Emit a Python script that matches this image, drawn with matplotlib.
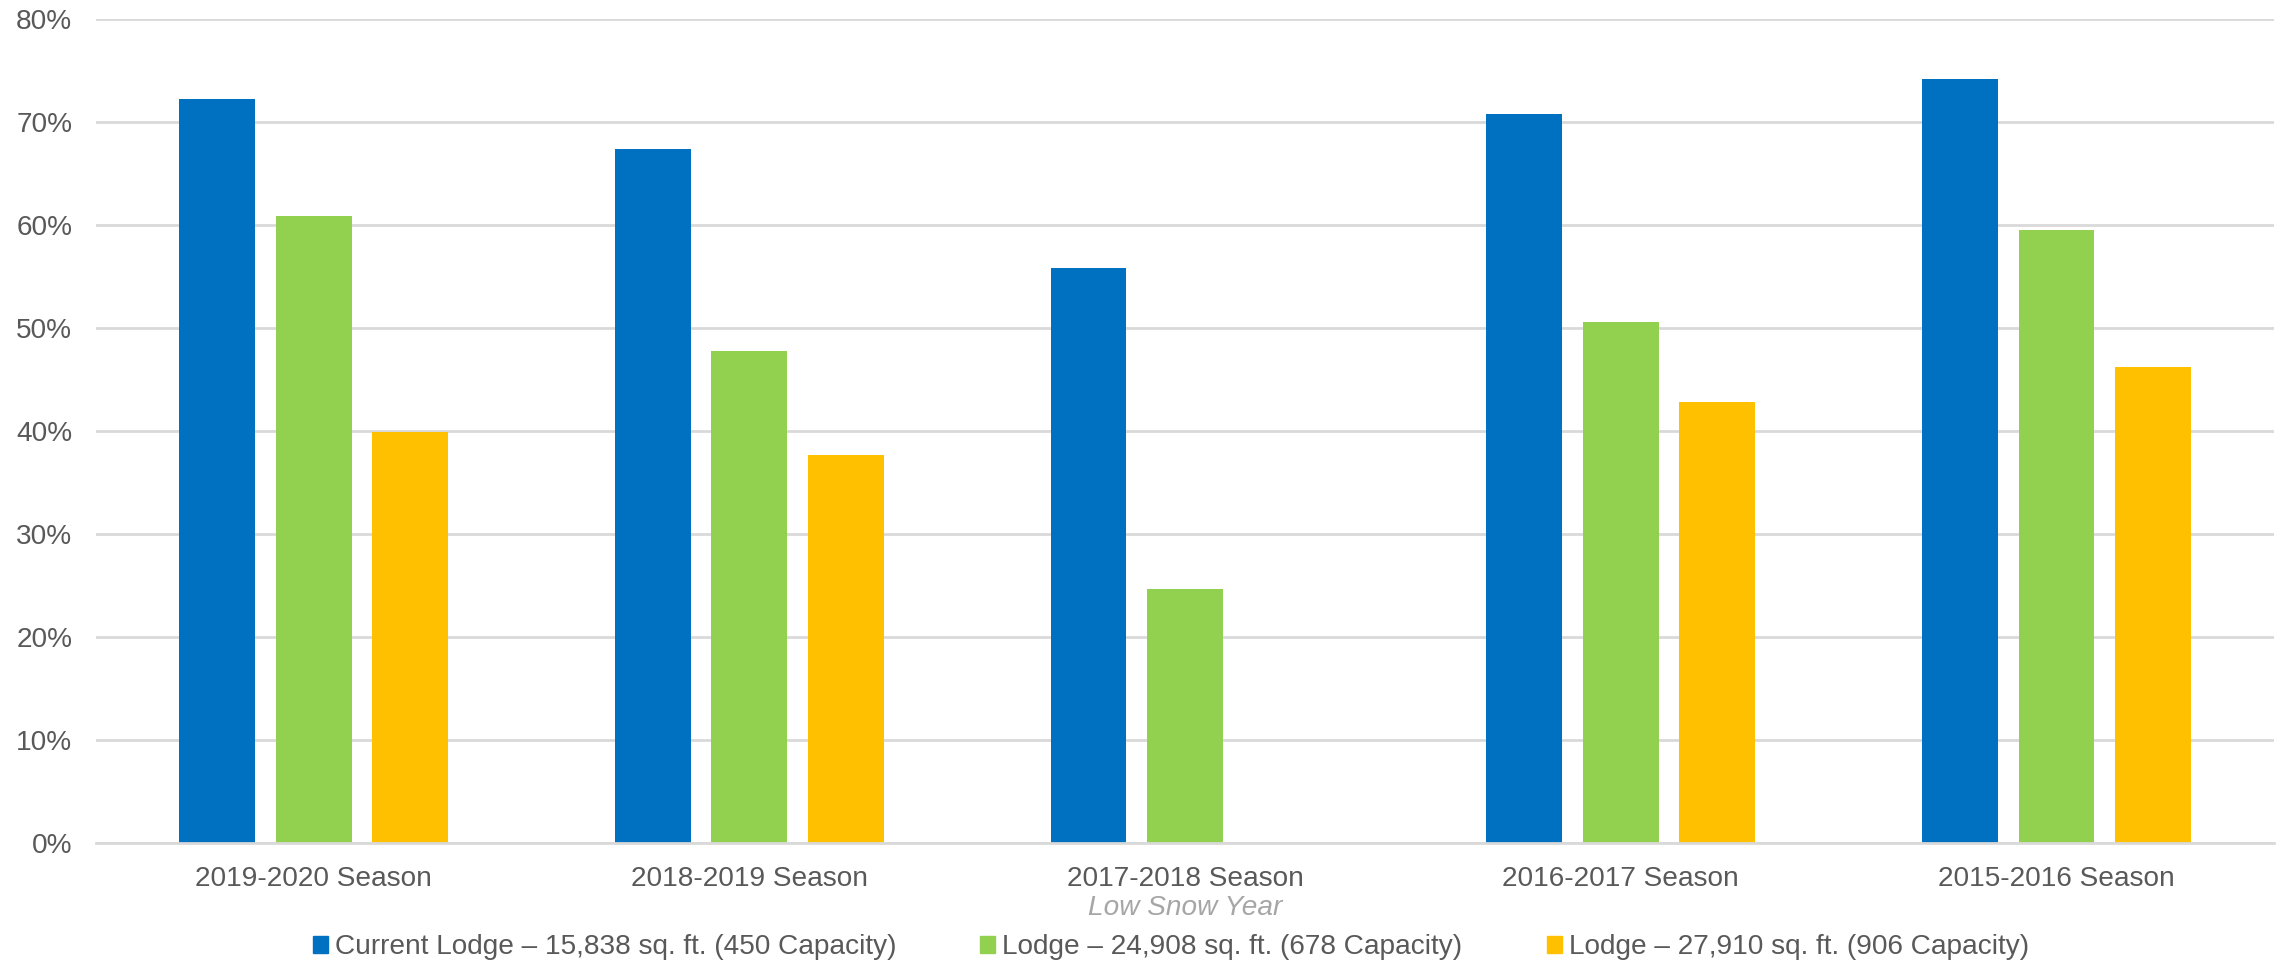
import numpy as np
import matplotlib
matplotlib.use('Agg')
import matplotlib.pyplot as plt
from matplotlib.patches import Patch
from matplotlib.ticker import PercentFormatter

plt.rcParams['font.family'] = ['Liberation Sans', 'DejaVu Sans']

# Data (percent)
seasons = ['2019-2020 Season', '2018-2019 Season', '2017-2018 Season',
           '2016-2017 Season', '2015-2016 Season']
current_lodge = [72.3, 67.4, 55.8, 70.8, 74.2]
lodge_24908 = [60.9, 47.8, 24.7, 50.6, 59.5]
lodge_27910 = [39.9, 37.7, np.nan, 42.8, 46.2]

series_labels = ['Current Lodge \u2013 15,838 sq. ft. (450 Capacity)',
                 'Lodge \u2013 24,908 sq. ft. (678 Capacity)',
                 'Lodge \u2013 27,910 sq. ft. (906 Capacity)']
colors = ['#0070C0', '#92D050', '#FFC000']
text_gray = '#595959'
grid_gray = '#D9D9D9'
fs = 20.2

fig = plt.figure(figsize=(22.8, 9.64), dpi=100)
ax = fig.add_axes([0.042, 0.1255, 0.9555, 0.8545])

x = np.arange(len(seasons))
width = 0.174
step = 0.2215
for i, vals in enumerate([current_lodge, lodge_24908, lodge_27910]):
    ax.bar(x + (i - 1) * step, vals, width, color=colors[i], zorder=3)

ax.set_xlim(-0.5, len(seasons) - 0.5)
ax.set_ylim(0, 80)
ax.set_yticks(np.arange(0, 81, 10))
ax.yaxis.set_major_formatter(PercentFormatter(decimals=0))
ax.grid(axis='y', color=grid_gray, linewidth=2, zorder=0)

for side in ['top', 'right', 'left']:
    ax.spines[side].set_visible(False)
ax.spines['bottom'].set_color(grid_gray)
ax.spines['bottom'].set_linewidth(2)
ax.spines['bottom'].set_zorder(4)

ax.set_xticks(x)
ax.set_xticklabels(seasons)
ax.tick_params(axis='both', length=0, labelsize=fs, colors=text_gray)
ax.tick_params(axis='x', pad=16.5)
ax.tick_params(axis='y', pad=17)

# note under the low snow season
ax.annotate('Low Snow Year', xy=(2, 0), xycoords=('data', 'axes fraction'),
            xytext=(0, -65), textcoords='offset pixels', ha='center', va='center',
            fontsize=fs, style='italic', color='#A6A6A6')

handles = [Patch(color=c) for c in colors]
fig.legend(handles, series_labels, loc='center', bbox_to_anchor=(0.5135, 0.0175),
           ncol=3, frameon=False, fontsize=fs, labelcolor=text_gray,
           handlelength=0.535, handleheight=0.535, handletextpad=0.25,
           columnspacing=3.0, borderpad=0, borderaxespad=0)

fig.savefig('out.png', dpi=100)
